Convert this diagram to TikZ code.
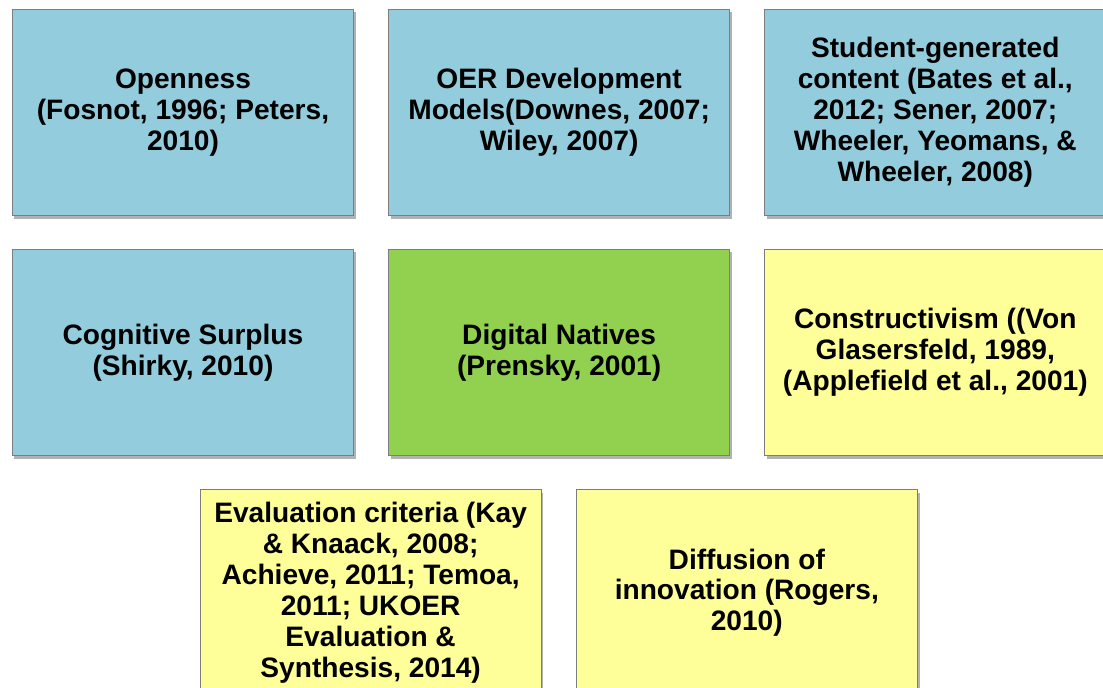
\documentclass[tikz,border=0pt]{standalone}
\usepackage{fontspec}
\setmainfont{Liberation Sans}
\usepackage{tikz}
\usepackage{xcolor}
\usetikzlibrary{positioning, shadows}
\definecolor{cBlue}{RGB}{147,205,221}
\definecolor{cGreen}{RGB}{146,208,80}
\definecolor{cYellow}{RGB}{255,255,153}
\definecolor{cEdge}{RGB}{125,125,125}
\tikzset{
	card/.style={rectangle, draw=cEdge, line width=0.6pt, minimum width=8.53cm, minimum height=5.16cm, text centered, align=center, inner sep=2pt,
		font=\bfseries\fontsize{20}{22}\selectfont,
		drop shadow={shadow xshift=1.5pt, shadow yshift=-2.2pt, fill=black, opacity=0.3}},
	bluecard/.style={card, fill=cBlue},
	greencard/.style={card, fill=cGreen},
	yellowcard/.style={card, fill=cYellow},
}

\begin{document}
\begin{tikzpicture}[x=0.025cm, y=0.025cm, node distance=0.82cm and 0.85cm]
	\useasboundingbox (0,0) rectangle (1103,-688);
	% first row
	\node[bluecard] (open) at (183,-112.5) {Openness\\ (Fosnot, 1996; Peters,\\ 2010)};
	\node[bluecard, right=of open] (oer) {OER Development\\ Models(Downes, 2007;\\ Wiley, 2007)};
	\node[bluecard, right=of oer] (stud) {Student-generated\\ content (Bates et al.,\\ 2012; Sener, 2007;\\ Wheeler, Yeomans, \&\\ Wheeler, 2008)};
	% second row
	\node[bluecard, below=of open] (cog) {Cognitive Surplus\\ (Shirky, 2010)};
	\node[greencard, right=of cog] (digi) {Digital Natives\\ (Prensky, 2001)};
	\node[yellowcard, right=of digi] (cons) {Constructivism ((Von\\ Glasersfeld, 1989,\\ (Applefield et al., 2001)};
	% third row, shifted half a card
	\node[yellowcard, below=of cog, xshift=4.69cm] (eval) {Evaluation criteria (Kay\\ \& Knaack, 2008;\\ Achieve, 2011; Temoa,\\ 2011; UKOER\\ Evaluation \&\\ Synthesis, 2014)};
	\node[yellowcard, right=of eval] (diff) {Diffusion of\\ innovation (Rogers,\\ 2010)};
\end{tikzpicture}
\end{document}
